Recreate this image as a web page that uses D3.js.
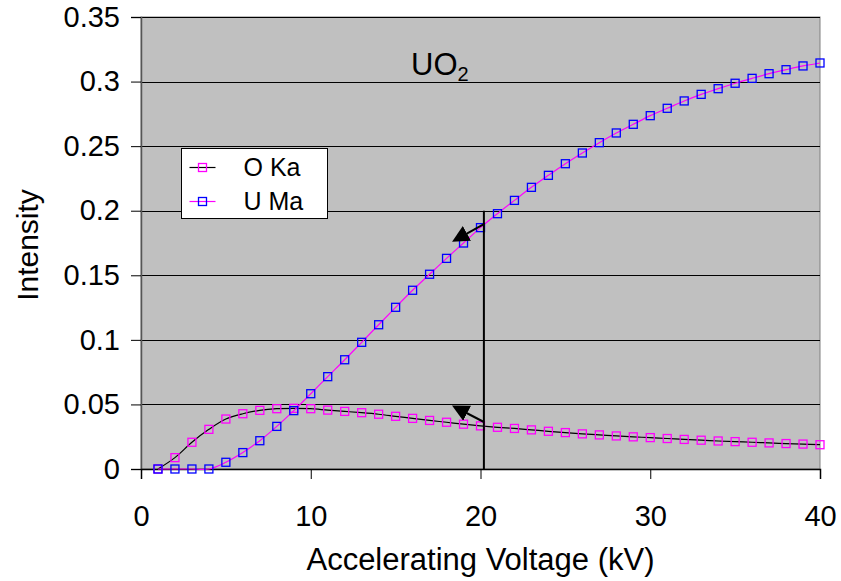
<!DOCTYPE html>
<html>
<head>
<meta charset="utf-8">
<script src="https://cdn.jsdelivr.net/npm/d3@7"></script>
<style>
  body { margin: 0; background: #fff; }
  text { font-family: "Liberation Sans", Arial, sans-serif; }
</style>
</head>
<body>
<div id="chart"></div>
<script>
// Accelerating voltage (kV)
const voltages = [1, 2, 3, 4, 5, 6, 7, 8, 9, 10, 11, 12, 13, 14, 15, 16, 17, 18, 19, 20,
  21, 22, 23, 24, 25, 26, 27, 28, 29, 30, 31, 32, 33, 34, 35, 36, 37, 38, 39, 40];

const oKa = [0, 0.0088, 0.0207, 0.0307, 0.0387, 0.0428, 0.0454, 0.0467, 0.0470, 0.0467,
  0.0456, 0.0446, 0.0436, 0.0424, 0.0408, 0.0392, 0.0376, 0.0362, 0.0347, 0.0334,
  0.0323, 0.0314, 0.0303, 0.0292, 0.0282, 0.0272, 0.0264, 0.0256, 0.0249, 0.0243,
  0.0236, 0.0229, 0.0223, 0.0217, 0.0212, 0.0207, 0.0202, 0.0197, 0.0193, 0.0188];

const uMa = [0, 0, 0, 0, 0.0052, 0.0127, 0.0219, 0.0330, 0.0452, 0.0583,
  0.0715, 0.0846, 0.0981, 0.1117, 0.1252, 0.1384, 0.1508, 0.1631, 0.1750, 0.1869,
  0.1977, 0.2080, 0.2181, 0.2274, 0.2364, 0.2447, 0.2527, 0.2602, 0.2669, 0.2736,
  0.2793, 0.2850, 0.2901, 0.2945, 0.2987, 0.3025, 0.3061, 0.3092, 0.3121, 0.3144];

const xTicks = [0, 10, 20, 30, 40];
const yTicks = [0, 0.05, 0.1, 0.15, 0.2, 0.25, 0.3, 0.35];

// marker line at ~20.2 kV and the two arrows (data units)
const cursorLine = { x: 20.2, y0: 0, y1: 0.2 };
const arrows = [
  { x0: 20.2, y0: 0.1897, x1: 18.5, y1: 0.1773 },
  { x0: 20.2, y0: 0.0364, x1: 18.5, y1: 0.0480 }
];

const series = [
  { name: "O Ka", values: oKa, line: "#000000", marker: "#ff00ff" },
  { name: "U Ma", values: uMa, line: "#ff00ff", marker: "#0000ff" }
];

const width = 841, height = 581;
const margin = { top: 17, right: 21, bottom: 112, left: 141 };
const plotW = width - margin.left - margin.right;
const plotH = height - margin.top - margin.bottom;

const svg = d3.select("#chart").append("svg")
  .attr("width", width)
  .attr("height", height);

const x = d3.scaleLinear().domain([0, 40]).range([0, plotW]);
const y = d3.scaleLinear().domain([0, 0.35]).range([plotH, 0]);

const g = svg.append("g").attr("transform", `translate(${margin.left},${margin.top})`);

// plot background
g.append("rect")
  .attr("width", plotW)
  .attr("height", plotH)
  .attr("fill", "#c0c0c0")
  .attr("stroke", "#808080")
  .attr("stroke-width", 1);

// horizontal gridlines
g.append("g").selectAll("line")
  .data(yTicks.filter(d => d > 0))
  .join("line")
  .attr("x1", 0).attr("x2", plotW)
  .attr("y1", d => Math.round(y(d)) + 0.5)
  .attr("y2", d => Math.round(y(d)) + 0.5)
  .attr("stroke", "#000")
  .attr("stroke-width", 1);

// axes
const yAxis = g.append("g")
  .call(d3.axisLeft(y).tickValues(yTicks).tickSize(10).tickPadding(11)
    .tickFormat(d => d3.format("")(+d.toFixed(2))));
const xAxis = g.append("g")
  .attr("transform", `translate(0,${plotH})`)
  .call(d3.axisBottom(x).tickValues(xTicks).tickSize(10).tickPadding(26));

[yAxis, xAxis].forEach(ax => {
  ax.select(".domain").attr("stroke", "#000").attr("stroke-width", 1.5);
  ax.selectAll(".tick line").attr("stroke", "#000");
  ax.selectAll(".tick text")
    .attr("fill", "#000")
    .style("font-size", "29px");
});
yAxis.select(".domain").attr("stroke", "#555");

// axis titles
svg.append("text")
  .attr("x", margin.left + plotW / 2)
  .attr("y", 570)
  .attr("text-anchor", "middle")
  .style("font-size", "31px")
  .text("Accelerating Voltage (kV)");

svg.append("text")
  .attr("transform", `translate(38,${margin.top + plotH / 2 + 2}) rotate(-90)`)
  .attr("text-anchor", "middle")
  .style("font-size", "30px")
  .text("Intensity");

// chart label UO2
const title = svg.append("text")
  .attr("x", 411)
  .attr("y", 75)
  .style("font-size", "31px");
title.append("tspan").text("UO");
title.append("tspan").attr("dy", 6).style("font-size", "20px").text("2");

// lines
const line = d3.line()
  .x((d, i) => x(voltages[i]))
  .y(d => y(d))
  .curve(d3.curveCatmullRom.alpha(0.5));

series.forEach(s => {
  g.append("path")
    .datum(s.values)
    .attr("fill", "none")
    .attr("stroke", s.line)
    .attr("stroke-width", 1.2)
    .attr("d", line);
});

// markers
const ms = 8;
series.forEach(s => {
  g.append("g").selectAll("rect")
    .data(s.values)
    .join("rect")
    .attr("x", (d, i) => x(voltages[i]) - ms / 2)
    .attr("y", d => y(d) - ms / 2)
    .attr("width", ms)
    .attr("height", ms)
    .attr("fill", "none")
    .attr("stroke", s.marker)
    .attr("stroke-width", 1.3);
});

// vertical cursor line
g.append("line")
  .attr("x1", x(cursorLine.x)).attr("x2", x(cursorLine.x))
  .attr("y1", y(cursorLine.y1)).attr("y2", y(cursorLine.y0))
  .attr("stroke", "#000")
  .attr("stroke-width", 2);

// arrows
svg.append("defs").append("marker")
  .attr("id", "arrowhead")
  .attr("viewBox", "0 0 10 10")
  .attr("refX", 8).attr("refY", 5)
  .attr("markerWidth", 8.5).attr("markerHeight", 8.5)
  .attr("markerUnits", "strokeWidth")
  .attr("orient", "auto")
  .append("path")
  .attr("d", "M0,0 L10,5 L0,10 z")
  .attr("fill", "#000");

g.append("g").selectAll("line")
  .data(arrows)
  .join("line")
  .attr("x1", d => x(d.x0)).attr("y1", d => y(d.y0))
  .attr("x2", d => x(d.x1)).attr("y2", d => y(d.y1))
  .attr("stroke", "#000")
  .attr("stroke-width", 2)
  .attr("marker-end", "url(#arrowhead)");

// legend
const lg = svg.append("g").attr("transform", "translate(181.5,148.5)");
lg.append("rect")
  .attr("width", 146).attr("height", 70)
  .attr("fill", "#fff")
  .attr("stroke", "#000")
  .attr("stroke-width", 1);

series.forEach((s, i) => {
  const ly = 19 + i * 34;
  lg.append("line")
    .attr("x1", 8).attr("x2", 34)
    .attr("y1", ly).attr("y2", ly)
    .attr("stroke", s.line)
    .attr("stroke-width", 1.2);
  lg.append("rect")
    .attr("x", 21 - ms / 2).attr("y", ly - ms / 2)
    .attr("width", ms).attr("height", ms)
    .attr("fill", "none")
    .attr("stroke", s.marker)
    .attr("stroke-width", 1.3);
  lg.append("text")
    .attr("x", 62).attr("y", ly)
    .attr("dy", "0.35em")
    .style("font-size", "25px")
    .text(s.name);
});
</script>
</body>
</html>
